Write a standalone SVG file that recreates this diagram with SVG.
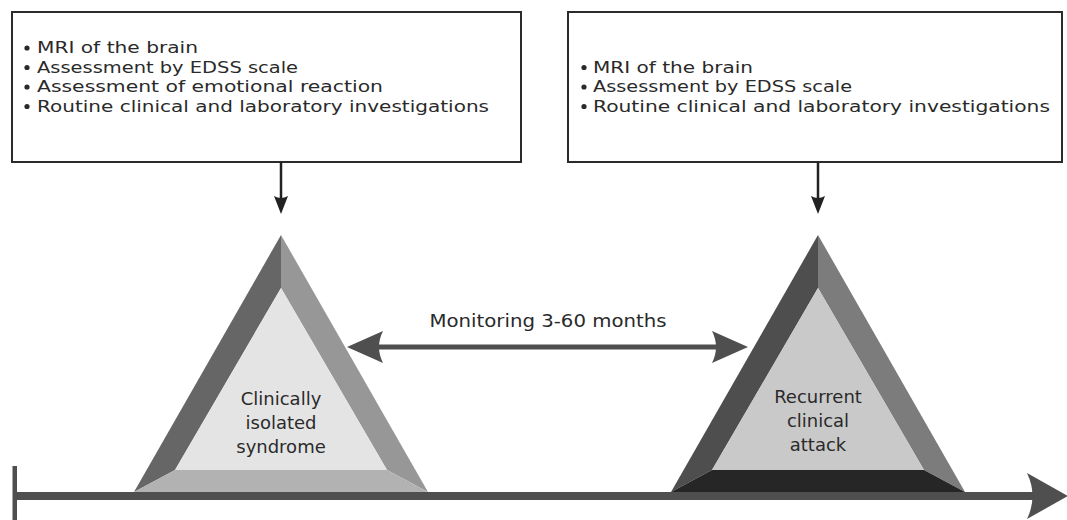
<svg xmlns="http://www.w3.org/2000/svg" width="1067" height="520" viewBox="0 0 1067 520">
  <style>
    .box { fill: #ffffff; stroke: #2b2b2b; stroke-width: 2; }
    .t { font-family: "DejaVu Sans", "Liberation Sans", sans-serif; font-size: 18px; fill: #2a2a2a; }
    .b { font-size: 16.5px; }
    .c { text-anchor: middle; }
    .bul { fill: #2a2a2a; }
    .conn { stroke: #222222; stroke-width: 2.5; fill: none; }
    .head { fill: #222222; }
    .tl { fill: #4f4f4f; }
  </style>

  <g id="box-left">
    <rect class="box" x="12" y="12" width="509" height="150"/>
    <circle class="bul" cx="27" cy="48" r="2.6"/>
    <text class="t b" x="37" y="53" textLength="161" lengthAdjust="spacingAndGlyphs">MRI of the brain</text>
    <circle class="bul" cx="27" cy="67.5" r="2.6"/>
    <text class="t b" x="37" y="72.5" textLength="261" lengthAdjust="spacingAndGlyphs">Assessment by EDSS scale</text>
    <circle class="bul" cx="27" cy="87" r="2.6"/>
    <text class="t b" x="37" y="92" textLength="346" lengthAdjust="spacingAndGlyphs">Assessment of emotional reaction</text>
    <circle class="bul" cx="27" cy="106.5" r="2.6"/>
    <text class="t b" x="37" y="111.5" textLength="452" lengthAdjust="spacingAndGlyphs">Routine clinical and laboratory investigations</text>
  </g>

  <g id="box-right">
    <rect class="box" x="568" y="12" width="494" height="150"/>
    <circle class="bul" cx="584" cy="67.5" r="2.6"/>
    <text class="t b" x="593" y="72.5" textLength="160" lengthAdjust="spacingAndGlyphs">MRI of the brain</text>
    <circle class="bul" cx="584" cy="87" r="2.6"/>
    <text class="t b" x="593" y="92" textLength="259" lengthAdjust="spacingAndGlyphs">Assessment by EDSS scale</text>
    <circle class="bul" cx="584" cy="106.5" r="2.6"/>
    <text class="t b" x="593" y="111.5" textLength="457" lengthAdjust="spacingAndGlyphs">Routine clinical and laboratory investigations</text>
  </g>

  <g id="timeline">
    <rect class="tl" x="12.5" y="466" width="4.5" height="54"/>
    <rect class="tl" x="14" y="492" width="1020" height="8"/>
    <path class="tl" d="M1068,496 L1027,473 Q1038,496 1027,519 Z"/>
  </g>

  <g id="triangle-cis">
    <polygon points="281,235 134,492 175,470 281,288" fill="#666666"/>
    <polygon points="281,235 428,492 387,470 281,288" fill="#979797"/>
    <polygon points="134,492 428,492 387,470 175,470" fill="#b2b2b2"/>
    <polygon points="281,288 387,470 175,470" fill="#e4e4e4"/>
    <text class="t c" x="281" y="405">Clinically</text>
    <text class="t c" x="281" y="429">isolated</text>
    <text class="t c" x="281" y="453">syndrome</text>
  </g>

  <g id="triangle-rca">
    <polygon points="818,235 671,492 712,470 818,288" fill="#4e4e4e"/>
    <polygon points="818,235 965,492 924,470 818,288" fill="#7c7c7c"/>
    <polygon points="671,492 965,492 924,470 712,470" fill="#262626"/>
    <polygon points="818,288 924,470 712,470" fill="#c9c9c9"/>
    <text class="t c" x="818" y="403">Recurrent</text>
    <text class="t c" x="818" y="427">clinical</text>
    <text class="t c" x="818" y="451">attack</text>
  </g>

  <g id="connectors">
    <line class="conn" x1="281" y1="162" x2="281" y2="202"/>
    <path class="head" d="M281,214 L274,196 Q281,200 288,196 Z"/>
    <line class="conn" x1="818" y1="162" x2="818" y2="202"/>
    <path class="head" d="M818,214 L811,196 Q818,200 825,196 Z"/>
    <g id="monitoring">
      <rect x="375" y="344.5" width="345" height="5" fill="#4f4f4f"/>
      <path d="M347,347 L383,331 Q375,347 383,363 Z" fill="#4f4f4f"/>
      <path d="M748,347 L712,331 Q720,347 712,363 Z" fill="#4f4f4f"/>
      <text class="t c" x="548" y="327" textLength="237" lengthAdjust="spacingAndGlyphs">Monitoring 3-60 months</text>
    </g>
  </g>
</svg>
